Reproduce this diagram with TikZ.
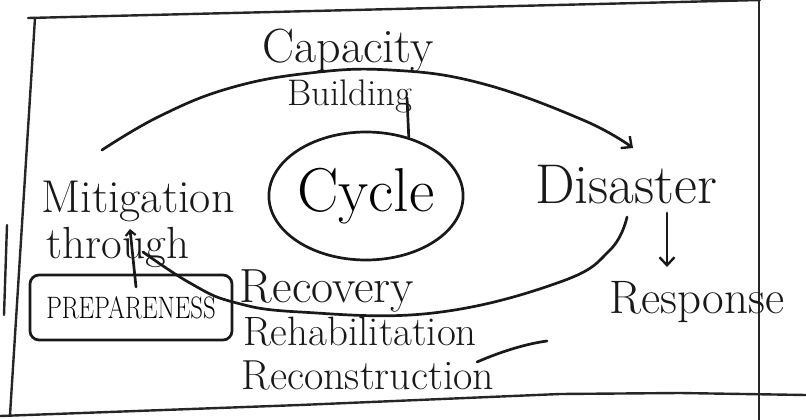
\documentclass[tikz,border=0pt]{standalone}
\usepackage{fontspec}
\usepackage{graphicx}
\usetikzlibrary{arrows.meta,shapes.geometric}
\tikzset{
  ink/.style={line width=2.7pt, line cap=round, line join=round, draw=black!90},
  frame/.style={line width=2.4pt, line cap=round, draw=black!85},
  hand/.style={anchor=base, inner sep=0pt, text=black!90},
  barb/.style={-{Straight Barb[length=8pt,width=15pt,line width=2.4pt]}},
  smallbarb/.style={-{Straight Barb[length=5pt,width=10pt,line width=2.2pt]}},
  fs/.style={font=\fontsize{#1}{#1}\selectfont}
}
\begin{document}
\begin{tikzpicture}[x=1pt,y=-1pt]
\useasboundingbox (0,0) rectangle (806,420);
% frame
\draw[frame] (28,18) -- (760,0);
\draw[frame] (35,18) -- (10,415);
\draw[frame] (0,416) -- (300,405) -- (560,394) -- (680,393) -- (806,395);
\draw[frame] (759,0) -- (759,420);
\draw[frame] (7,225) -- (4,315);

% labels
\node[hand, fs=48] (cap) at (348,63) {Capacity};
\node[hand, fs=37] (bld) at (350,106) {Building};
\node[ink, draw, ellipse, minimum width=174pt, minimum height=128pt, inner sep=0pt, fs=62] (cyc) at (366,196) {Cycle};
\node[hand, fs=46] (mit) at (138,212) {Mitigation};
\node[hand, fs=45] (thr) at (118,258) {through};
\node[ink, draw, rounded corners=9pt, minimum width=202pt, minimum height=65pt, inner sep=0pt, fs=31] (prep) at (131,307.5) {\scalebox{0.8}[1]{PREPARENESS}};
\node[hand, fs=56] (dis) at (626,203) {Disaster};
\node[hand, fs=47] (resp) at (697,313) {Response};
\node[hand, fs=48] (rec) at (327,302) {Recovery};
\node[hand, fs=41] (reh) at (360,345) {Rehabilitation};
\node[hand, fs=42] (recon) at (368,389) {Reconstruction};

% cycle arcs
\draw[ink, barb] plot[smooth, tension=0.7] coordinates {(102,150) (160,116) (230,88) (310,73) (390,70) (480,83) (583,120) (633,148)};
\draw[ink] plot[smooth, tension=0.7] coordinates {(627,217) (610,250) (560,282) (433,313) (300,312) (233,302) (190,283) (143,252)};

% Building to cycle
\coordinate (b1) at (407,98);
\draw[ink] (b1) -- (cyc.54);

% Disaster -> Response
\coordinate (d1) at (667,213);
\coordinate (d2) at (667,267);
\draw[ink, barb] (d1) -- (d2);

% Preparedness -> through
\coordinate (p1) at (136,287);
\coordinate (p2) at (130,229);
\draw[ink, smallbarb] (p1) -- (p2);

% flourish after Rehabilitation
\coordinate (f1) at (477,362);
\coordinate (f2) at (547,341);
\draw[ink] (f1) .. controls (500,352) and (525,344) .. (f2);
\end{tikzpicture}
\end{document}
